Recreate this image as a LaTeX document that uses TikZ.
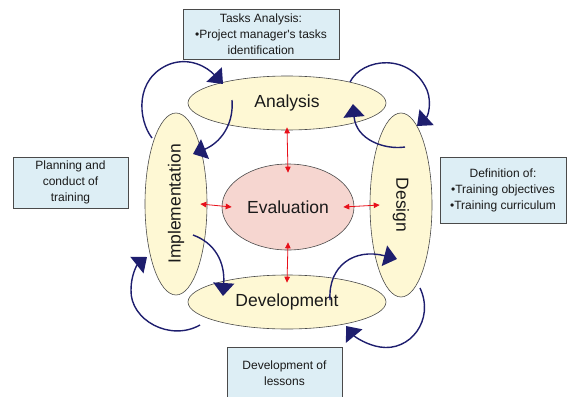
\documentclass[tikz,border=0pt]{standalone}
\usepackage{fontspec}
\setmainfont{Liberation Sans}
\usetikzlibrary{shapes.geometric,arrows.meta}
\definecolor{phasefill}{HTML}{FEF8D4}
\definecolor{evalfill}{HTML}{F6D6D0}
\definecolor{boxfill}{HTML}{DDEEF5}
\definecolor{edgegray}{HTML}{4A4A4A}
\definecolor{navy}{HTML}{1E1E6E}
\definecolor{linkred}{HTML}{E8101A}
\definecolor{ink}{HTML}{1A1A1A}
\begin{document}
\begin{tikzpicture}[x=1pt,y=-1pt,
  phase/.style={ellipse,draw=edgegray,line width=0.6pt,fill=phasefill,inner sep=0pt,
    text=ink,font=\fontsize{17.5}{20}\selectfont},
  evalnode/.style={ellipse,draw=edgegray,line width=0.6pt,fill=evalfill,inner sep=0pt,
    text=ink,font=\fontsize{17.5}{20}\selectfont},
  infobox/.style={rectangle,draw=edgegray,line width=0.7pt,fill=boxfill,inner sep=0pt,
    text=ink,align=center,font=\fontsize{12}{16}\selectfont},
  cycle/.style={draw=navy,line width=1.4pt,-{Triangle[length=13pt,width=21pt]}},
  link/.style={draw=linkred,line width=0.8pt,
    {Triangle[length=6pt,width=5.5pt]}-{Triangle[length=6pt,width=5.5pt]}}]
\useasboundingbox (0,0) rectangle (569,396);
\clip (0,0) rectangle (569,396);

% information boxes
\node[infobox,minimum width=156pt,minimum height=50pt] (tbox) at (261,34)
  {Tasks Analysis:\\\textbullet Project manager\textquotesingle s tasks\\identification};
\node[infobox,minimum width=115pt,minimum height=51pt] (lbox) at (70.5,182.5)
  {Planning and\\conduct of\\training};
\node[infobox,minimum width=126pt,minimum height=66pt] (rbox) at (503,190)
  {Definition of:\\\textbullet Training objectives\\\textbullet Training curriculum};
\node[infobox,minimum width=115pt,minimum height=52pt] (bbox) at (284.5,373)
  {Development of\\lessons};

% the four phases and the central evaluation
\node[phase,minimum width=62pt,minimum height=182pt] (imp) at (176,204)
  {\rotatebox{90}{Implementation}};
\node[phase,minimum width=62pt,minimum height=184pt] (des) at (401,205)
  {\rotatebox{-90}{Design}};
\node[phase,minimum width=198pt,minimum height=54pt] (ana) at (287,103) {Analysis};
\node[phase,minimum width=198pt,minimum height=54pt] (dev) at (287,302) {Development};
\node[evalnode,minimum width=132pt,minimum height=86pt] (eval) at (288,207) {Evaluation};

% evaluation links
\draw[link] ([yshift=3pt]ana.south) -- ([yshift=-9pt]eval.north);
\draw[link] ([yshift=8pt]eval.south) -- ([yshift=-8pt]dev.north);
\draw[link] ([xshift=-7pt]imp.east) -- ([xshift=10pt]eval.west);
\draw[link] ([xshift=-11pt]eval.east) -- ([xshift=10pt]des.west);

% end points of the cycle arrows
\coordinate (a1s) at (152,138);  \coordinate (a1e) at (223,84);
\coordinate (a2s) at (232,100);  \coordinate (a2e) at (193,154);
\coordinate (a3s) at (350,82);   \coordinate (a3e) at (417,126);
\coordinate (a4s) at (405,147);  \coordinate (a4e) at (353,104);
\coordinate (a5s) at (193,235);  \coordinate (a5e) at (223,296);
\coordinate (a6s) at (200,325);  \coordinate (a6e) at (147,257);
\coordinate (a7s) at (330,300);  \coordinate (a7e) at (397,259);
\coordinate (a8s) at (420,288);  \coordinate (a8e) at (346,326);

% cycle arrows between neighbouring phases
\draw[cycle] (a1s) .. controls (138,120) and (134,78) .. (170,64)
  .. controls (190,57) and (207,67) .. (a1e);
\draw[cycle] (a2s) .. controls (234,125) and (220,143) .. (a2e);
\draw[cycle] (a3s) .. controls (362,58) and (410,52) .. (427,90)
  .. controls (432,103) and (428,116) .. (a3e);
\draw[cycle] (a4s) .. controls (385,150) and (356,140) .. (a4e);
\draw[cycle] (a5s) .. controls (215,243) and (225,262) .. (a5e);
\draw[cycle] (a6s) .. controls (170,342) and (130,320) .. (131,290)
  .. controls (131,275) and (137,265) .. (a6e);
\draw[cycle] (a7s) .. controls (328,265) and (355,248) .. (a7e);
\draw[cycle] (a8s) .. controls (435,320) and (410,352) .. (380,347)
  .. controls (367,345) and (355,337) .. (a8e);
\end{tikzpicture}
\end{document}
